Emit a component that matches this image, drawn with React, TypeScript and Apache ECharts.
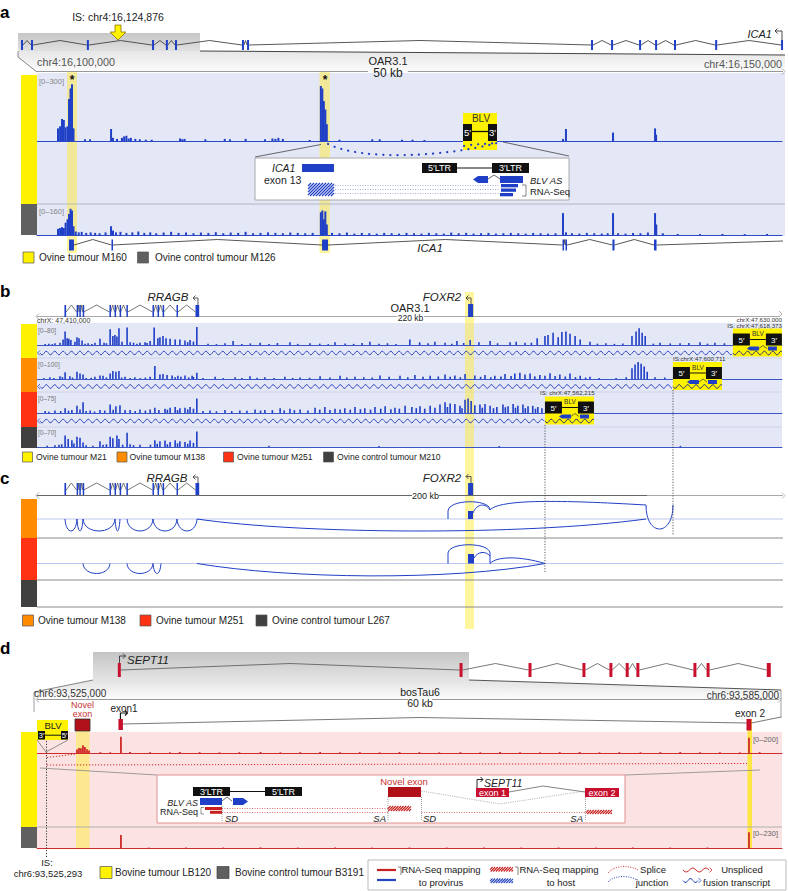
import React, { useEffect, useRef } from 'react';
import * as echarts from 'echarts';

const FONT = '"Liberation Sans", Arial, Helvetica, sans-serif';
const BLUE = '#1f3fc6';
const YEL = '#fff200';
const ORANGE = '#ff8c00';
const RED = '#ff3314';
const DARK = '#404040';
const GRAY = '#606060';
const HL = 'rgba(255,236,60,0.5)';
const BG_BLUE = '#e3e7f6';
const BG_PINK = '#fbe3e3';
const CRED = '#d02a2a';
const EXRED = '#c8102e';

// ---------- Panel a (kb from chr4:16,100,000; 50 kb window) ----------
const aRange = [0, 50];
const aTopExons = [1.1, 3.85, 19.2, 37.1, 40.9, 43.4, 61.8, 63.2, 157.7, 163.2, 170.9, 175.3, 180.5, 191.8, 209.9];
const aICA1Exons: [number, number][] = [[2.15, 2.48], [5.0, 5.1], [19.13, 19.53], [35.27, 35.37], [35.47, 35.57], [38.62, 38.76], [41.41, 41.58]];
const aM160: [number, number][] = [
  [1.41, 60], [1.55, 70], [1.68, 105], [1.8, 100], [1.92, 65], [2.05, 70], [2.15, 200], [2.25, 250], [2.35, 270], [2.45, 60],
  [3.22, 8], [3.56, 8], [4.97, 57], [5.1, 15], [5.37, 10], [5.7, 15], [5.85, 22], [6.0, 25], [6.15, 12], [6.3, 15], [6.6, 10],
  [6.9, 8], [7.3, 6], [7.7, 6], [9.6, 12], [9.75, 8], [9.9, 10], [11.3, 8], [12.6, 10], [12.95, 8], [14.0, 10], [15.3, 8],
  [15.8, 12], [16.0, 10], [16.2, 15], [16.5, 10], [18.3, 5], [19.05, 262], [19.15, 250], [19.25, 190], [19.35, 150], [19.45, 80],
  [20.3, 6], [22.5, 8], [23.0, 8], [24.5, 6], [25.2, 6], [26.0, 5], [35.3, 10], [35.5, 57], [38.66, 40], [41.48, 60], [41.55, 30],
];
const aM126: [number, number][] = [
  [1.41, 35], [1.55, 40], [1.68, 45], [1.8, 40], [1.92, 70], [2.05, 90], [2.15, 120], [2.25, 150], [2.35, 140], [2.45, 50],
  [2.6, 20], [2.8, 15], [3.0, 18], [3.3, 12], [3.6, 15], [3.9, 12], [4.2, 10], [4.6, 15], [4.97, 50], [5.1, 25], [5.3, 15],
  [5.6, 18], [6.0, 12], [6.4, 15], [6.8, 20], [7.2, 12], [7.6, 15], [8.0, 10], [8.5, 14], [9.0, 18], [9.5, 12], [10.0, 15],
  [10.5, 10], [11.0, 14], [11.5, 12], [12.0, 16], [12.5, 10], [13.0, 14], [13.5, 12], [14.0, 18], [14.5, 10], [15.0, 12],
  [15.5, 15], [16.0, 12], [16.5, 10], [17.0, 14], [17.5, 12], [18.0, 10], [18.5, 12], [19.05, 130], [19.15, 140], [19.25, 90],
  [19.35, 135], [19.45, 60], [19.8, 12], [20.3, 10], [20.8, 14], [21.3, 8], [21.8, 12], [22.3, 10], [22.8, 8], [23.3, 12],
  [23.8, 10], [24.3, 8], [24.8, 12], [25.3, 10], [25.8, 8], [26.3, 12], [26.8, 10], [27.3, 8], [27.8, 14], [28.3, 10],
  [28.8, 12], [29.3, 8], [29.8, 10], [30.3, 12], [30.8, 8], [31.3, 10], [31.8, 12], [32.3, 10], [32.8, 8], [33.3, 12],
  [33.8, 10], [34.3, 8], [34.8, 10], [35.3, 125], [35.5, 15], [35.9, 10], [36.4, 8], [36.9, 12], [37.4, 10], [37.9, 8],
  [38.3, 10], [38.66, 125], [39.0, 10], [39.5, 8], [40.0, 12], [40.5, 10], [41.0, 14], [41.48, 125], [41.56, 60], [42.0, 10],
  [43.0, 6], [44.5, 5], [46.0, 6], [47.5, 5], [49.0, 6],
];

// ---------- Panel b / c (kb from chrX:47,410,000; 220 kb window) ----------
const bRange = [0, 220];
const bRRAGBExons: [number, number][] = [[8.1, 8.6], [11.7, 12.1], [12.5, 12.9], [13.5, 13.8], [21.4, 21.8], [22.9, 23.2], [24.4, 24.7], [26.4, 26.8], [34.1, 34.5], [35.6, 35.9], [37.1, 37.4], [41.2, 41.6], [46.8, 47.9]];
const bFOXR2Exon: [number, number] = [127.3, 128.8];
const bBLVStart = [205.5, 187.8, 150.0];
const bM21: [number, number][] = [
  [2.4, 5], [5.3, 8], [6.8, 10], [7.7, 25], [8.3, 60], [8.9, 30], [9.4, 28], [10.0, 22], [11.2, 15], [11.8, 35], [12.4, 30],
  [13.3, 20], [15.1, 8], [17.1, 10], [18.6, 28], [19.8, 10], [21.6, 70], [22.4, 40], [23.0, 45], [23.6, 38], [24.2, 75],
  [25.1, 15], [26.6, 78], [27.5, 12], [30.4, 10], [31.9, 12], [33.4, 18], [34.6, 78], [35.7, 30], [36.3, 35], [37.2, 40],
  [38.1, 30], [39.3, 28], [40.8, 25], [42.2, 25], [43.7, 20], [45.2, 22], [47.2, 80], [57.9, 18], [65.9, 10], [74.7, 12],
  [80.6, 8], [88.0, 12], [98.3, 15], [110.1, 25], [117.5, 15], [124.0, 18], [127.9, 22], [133.8, 18], [139.7, 12], [144.1, 10],
  [147.7, 30], [150.0, 40], [150.9, 45], [152.4, 55], [153.9, 35], [155.0, 58], [156.2, 60], [157.4, 50], [158.9, 40],
  [160.4, 25], [163.3, 15], [175.7, 40], [176.9, 60], [177.8, 75], [178.7, 55], [179.6, 40], [184.0, 10], [189.9, 8],
  [195.8, 12], [200.2, 10],
];
const bM21Low: [number, number][] = [
  [3.5, 6], [4.5, 4], [14.2, 6], [16.2, 5], [20.5, 8], [28.5, 10], [29.5, 6], [32.5, 9], [44.5, 12], [46.2, 15],
  [50.5, 6], [53, 4], [55.5, 8], [60.5, 5], [63, 7], [68.5, 4], [71, 9], [77, 5], [83.5, 6], [86, 4], [91, 7], [93.5, 5],
  [96, 9], [101, 6], [103.5, 8], [106, 5], [113, 12], [115.5, 8], [120.5, 10], [122.5, 6], [126, 9], [130.5, 12], [136, 8],
  [141.5, 14], [146, 10], [165.5, 6], [168, 8], [170.5, 5], [173, 7], [182, 6], [187, 7], [192.5, 9], [198, 6], [203, 8],
];
const bM138: [number, number][] = [
  [3.8, 10], [6.8, 15], [8.3, 38], [9.7, 15], [11.8, 40], [12.7, 30], [13.6, 25], [17.1, 12], [18.6, 20], [19.5, 18],
  [21.6, 30], [22.4, 45], [23.3, 40], [24.2, 45], [26.0, 12], [28.9, 10], [33.4, 12], [34.8, 72], [36.3, 25], [37.2, 28],
  [38.4, 22], [39.9, 20], [41.6, 18], [43.7, 20], [45.8, 18], [47.2, 35], [52.6, 12], [58.5, 10], [62.9, 15], [67.3, 10],
  [73.2, 12], [77.7, 8], [83.6, 15], [89.5, 18], [93.9, 12], [101.3, 20], [107.2, 18], [111.6, 22], [116.1, 18], [120.5, 25],
  [123.4, 20], [126.4, 28], [129.3, 20], [132.3, 22], [135.2, 18], [138.2, 28], [141.1, 30], [142.6, 35], [144.1, 25],
  [145.6, 30], [148.5, 22], [151.5, 32], [154.4, 25], [157.4, 30], [160.4, 18], [163.3, 12], [175.7, 60], [176.6, 80],
  [177.5, 95], [178.4, 85], [179.3, 70], [180.2, 40], [182.5, 10], [185.4, 8],
];
const bM138Low: [number, number][] = [
  [2, 5], [5, 6], [7.5, 10], [10.5, 8], [14.5, 6], [16, 7], [20.5, 9], [25, 8], [27.5, 6], [30.5, 5], [32, 8], [40.8, 10],
  [42.5, 12], [44.8, 9], [46.2, 11], [49, 6], [55, 5], [60.5, 6], [65, 7], [70, 5], [75.5, 6], [80.5, 7], [86.5, 8],
  [91.5, 9], [96.5, 10], [99, 8], [104, 12], [109.5, 10], [114, 12], [118.5, 14], [122, 12], [125, 10], [131, 12], [134, 10],
  [137, 14], [140, 16], [147, 15], [150, 18], [153, 16], [156, 14], [159, 10], [162, 8], [166, 5], [171, 6], [174, 10],
];
const bM251: [number, number][] = [
  [2.4, 8], [5.3, 10], [8.3, 20], [10.3, 12], [11.8, 30], [13.6, 45], [15.7, 10], [18.6, 12], [21.6, 35], [23.3, 28],
  [24.5, 32], [27.5, 12], [30.4, 15], [33.4, 15], [34.8, 22], [37.8, 18], [39.3, 22], [40.8, 25], [42.2, 20], [43.7, 22],
  [45.2, 25], [47.2, 60], [51.1, 10], [55.5, 12], [59.9, 10], [64.4, 15], [67.3, 12], [71.8, 20], [74.7, 18], [77.7, 15],
  [82.1, 22], [85.0, 25], [88.0, 18], [90.9, 20], [93.9, 25], [96.8, 20], [99.8, 25], [102.8, 28], [105.7, 22], [108.7, 30],
  [110.7, 25], [113.1, 28], [116.1, 30], [119.0, 35], [120.5, 45], [122.0, 40], [123.4, 38], [124.9, 30], [126.4, 55],
  [127.3, 60], [128.2, 50], [129.3, 32], [130.8, 35], [132.3, 38], [133.8, 30], [135.8, 25], [137.6, 35], [139.1, 28],
  [140.6, 38], [142.0, 30], [143.5, 35], [145.0, 28], [146.4, 30], [147.9, 25], [149.1, 20],
];
const bM251Low: [number, number][] = [
  [3.5, 5], [7, 8], [9.3, 10], [12.7, 15], [14.5, 8], [17, 6], [20, 10], [22.5, 14], [26, 12], [29, 8], [32, 10], [36, 12],
  [38.5, 14], [41.5, 12], [44.5, 15], [46.2, 18], [49, 8], [53, 7], [57.5, 8], [62, 9], [66, 10], [69.5, 12], [73, 11],
  [76, 12], [80, 10], [83.5, 14], [86.5, 12], [89.5, 15], [92.5, 14], [95.5, 16], [98.5, 14], [101.5, 18], [104.5, 16],
  [107, 18], [112, 20], [114.5, 18], [117.5, 22], [121.2, 25], [125.5, 20], [131.5, 22], [134.8, 20], [138.3, 24],
  [141.3, 22], [144.2, 20], [147.2, 18],
];
const bM210: [number, number][] = [
  [5.3, 8], [8.3, 50], [9.2, 35], [10.3, 30], [11.8, 45], [12.7, 40], [13.6, 20], [18.6, 25], [21.6, 45], [22.4, 38],
  [23.6, 50], [24.2, 35], [26.6, 62], [30.4, 10], [34.8, 30], [36.3, 25], [37.8, 28], [39.3, 22], [40.8, 30], [42.2, 25],
  [43.7, 22], [45.2, 28], [47.2, 68], [68.5, 5], [101.0, 4], [136.5, 4], [190.0, 5],
];
const bM210Low: [number, number][] = [
  [3, 6], [6.5, 10], [7.3, 12], [10.9, 15], [14.5, 8], [16.5, 6], [19.5, 10], [20.5, 12], [25.3, 10], [27.5, 12], [28.5, 8],
  [33.5, 10], [35.5, 14], [38.5, 12], [41.5, 16], [44.5, 14], [46.2, 18],
];

// ---------- Panel d (kb from chr6:93,525,000; 60 kb window) ----------
const dRange = [0, 60];
const dOverviewExons = [4.2, 58.7, 69.7, 78.3, 82.6, 85.2, 86.9, 96.0, 98.1, 107.7];
const dExon1 = 6.76;
const dExon2 = 57.34;
const dNovel: [number, number] = [3.06, 4.27];
const dLB120: [number, number][] = [
  [3.22, 40], [3.38, 60], [3.54, 55], [3.7, 90], [3.86, 70], [4.03, 45], [4.19, 30], [6.76, 190], [57.34, 180],
  [5.1, 10], [5.9, 8], [7.5, 12], [9.1, 10], [10.7, 8], [11.5, 12], [13.1, 10], [14.7, 8], [16.3, 10], [18.0, 12], [19.6, 8],
  [21.2, 10], [22.8, 12], [24.4, 8], [26.0, 10], [27.6, 8], [29.2, 12], [30.8, 10], [32.4, 8], [34.1, 10], [35.7, 8],
  [37.3, 12], [38.9, 10], [40.5, 8], [42.1, 10], [43.7, 12], [45.3, 8], [46.9, 10], [48.6, 8], [50.2, 10], [51.8, 12],
  [53.4, 8], [55.0, 10], [56.6, 8], [58.2, 10],
];
const dB3191: [number, number][] = [
  [6.76, 157], [57.34, 190], [9.0, 5], [12, 6], [15, 5], [18, 7], [21, 5], [24, 6], [27, 5], [30, 6], [33, 5], [36, 6],
  [39, 5], [42, 6], [45, 5], [48, 6], [51, 5], [54, 6],
];

const L0 = 37;
const W = 745;
const xa = (k: number) => L0 + (k - aRange[0]) / (aRange[1] - aRange[0]) * W;
const xb = (k: number) => L0 + (k - bRange[0]) / (bRange[1] - bRange[0]) * W;
const xd = (k: number) => L0 + (k - dRange[0]) / (dRange[1] - dRange[0]) * W;
const xt = (k: number) => 18 + k * 3.64; // panel a overview
const xo = (k: number) => 93 + k * 6.27; // panel d overview

function buildOption() {
  const els: any[] = [];
  const vgrad = (c1: string, c2: string) => new echarts.graphic.LinearGradient(0, 0, 0, 1, [{ offset: 0, color: c1 }, { offset: 1, color: c2 }]);
  const txt = (x: number, y: number, text: string, o: any = {}) => els.push({
    type: 'text', x, y, z: o.z ?? 30, silent: true,
    style: {
      text, fill: o.fill ?? '#222', fontSize: o.size ?? 10, fontFamily: FONT,
      fontStyle: o.italic ? 'italic' : 'normal', fontWeight: o.bold ? 'bold' : 'normal',
      align: o.align ?? 'left', verticalAlign: o.va ?? 'middle',
    },
  });
  const rect = (x: number, y: number, w: number, h: number, fill: any, o: any = {}) => els.push({
    type: 'rect', z: o.z ?? 10, silent: true, shape: { x, y, width: w, height: h },
    style: { fill, stroke: o.stroke ?? null, lineWidth: o.lw ?? 0 },
  });
  const line = (x1: number, y1: number, x2: number, y2: number, stroke = '#555', lw = 1, o: any = {}) => els.push({
    type: 'line', z: o.z ?? 12, silent: true, shape: { x1, y1, x2, y2 },
    style: { stroke, lineWidth: lw, lineDash: o.dash ?? null, lineCap: o.cap ?? 'butt' },
  });
  const poly = (points: number[][], stroke: string, lw = 1, o: any = {}) => els.push({
    type: 'polyline', z: o.z ?? 12, silent: true, shape: { points },
    style: { stroke, lineWidth: lw, fill: 'none', lineDash: o.dash ?? null },
  });
  const polygon = (points: number[][], fill: any, o: any = {}) => els.push({
    type: 'polygon', z: o.z ?? 10, silent: true, shape: { points },
    style: { fill, stroke: o.stroke ?? null, lineWidth: o.lw ?? 0 },
  });
  const bez = (x1: number, y1: number, c1x: number, c1y: number, c2x: number, c2y: number, x2: number, y2: number, stroke = BLUE, lw = 1, o: any = {}) => els.push({
    type: 'bezierCurve', z: o.z ?? 12, silent: true,
    shape: { x1, y1, x2, y2, cpx1: c1x, cpy1: c1y, cpx2: c2x, cpy2: c2y },
    style: { stroke, lineWidth: lw, fill: 'none', lineDash: o.dash ?? null, lineCap: o.cap ?? 'butt' },
  });
  const chevL = (x: number, y: number, s = 3, stroke = '#999') => poly([[x + s, y - s], [x, y], [x + s, y + s]], stroke, 0.8);
  const chevR = (x: number, y: number, s = 3, stroke = '#999') => poly([[x - s, y - s], [x, y], [x - s, y + s]], stroke, 0.8);
  const hookArrow = (x: number, yb: number, yt: number, dir: number, len = 6, stroke = '#333', lw = 0.9) => {
    const ex = x + dir * len;
    poly([[x, yb], [x, yt], [ex, yt]], stroke, lw, { z: 20 });
    poly([[ex - dir * 2.5, yt - 2.5], [ex, yt], [ex - dir * 2.5, yt + 2.5]], stroke, lw, { z: 20 });
  };
  const wave = (x1: number, x2: number, y: number, amp: number, period: number, stroke: string, lw = 0.9, z = 12) => {
    const pts: number[][] = [];
    for (let x = x1; x <= x2; x += 1) pts.push([x, y + amp * Math.sin(((x - x1) / period) * 2 * Math.PI)]);
    poly(pts, stroke, lw, { z });
  };
  const hatch = (x: number, y: number, w: number, h: number, color: string, step = 3, lw = 1.2, z = 20) => {
    for (let i = x - h; i < x + w; i += step) {
      let x1 = i, y1 = y + h, x2 = i + h, y2 = y;
      if (x1 < x) { y1 = y + h - (x - x1); x1 = x; }
      if (x2 > x + w) { y2 = y + (x2 - (x + w)); x2 = x + w; }
      if (x2 > x1) line(x1, y1, x2, y2, color, lw, { z });
    }
  };
  const gene = (ex: number[][], yTop: number, h: number, attachY: number, peakY: number, fill: string, lc = '#555', lw = 0.8) => {
    for (let i = 0; i < ex.length - 1; i++) {
      const x1 = ex[i][1], x2 = ex[i + 1][0];
      if (x2 - x1 > 0.5) poly([[x1, attachY], [(x1 + x2) / 2, peakY], [x2, attachY]], lc, lw, { z: 14 });
    }
    ex.forEach(([s, e]) => rect(s, yTop, Math.max(e - s, 1.5), h, fill, { z: 15 }));
  };
  const legendSq = (x: number, y: number, fill: string, label: string, tx: number, size = 10, sq = 11) => {
    rect(x, y, sq, sq, fill, { stroke: '#555', lw: 0.7, z: 20 });
    txt(tx, y + sq / 2, label, { size });
  };

  // =================== PANEL A ===================
  txt(0, 12, 'a', { size: 17, bold: true, fill: '#000' });
  txt(118, 17, 'IS: chr4:16,124,876', { size: 10.5, align: 'center' });
  rect(18, 33, 182, 18, vgrad('#c6c6c6', '#e0e0e0'), { z: 2 });
  polygon([[18, 51], [200, 51], [785, 55], [785, 72], [37, 72], [18, 57]], vgrad('#e6e6e6', '#fcfcfc'), { z: 2 });
  line(200, 51, 785, 55, '#444', 1);
  line(18, 51, 18, 57, '#777', 0.8);
  line(18, 57, 37, 72, '#666', 0.8);
  gene(aTopExons.map((k) => [xt(k) - 1, xt(k) + 1]), 40, 10, 45, 40.5, BLUE, '#444', 0.9);
  txt(772, 34, 'ICA1', { size: 11, italic: true, align: 'right' });
  hookArrow(782, 40, 31, -1, 7, '#333');
  polygon([[115, 25], [121, 25], [121, 32], [126, 32], [118, 40], [110, 32], [115, 32]], YEL, { stroke: '#8a7400', lw: 0.8, z: 25 });
  line(37, 71.5, 368, 71.5, '#999', 1);
  line(408, 71.5, 783, 71.5, '#999', 1);
  chevR(785, 71.5, 3, '#999');
  txt(37, 62, 'chr4:16,100,000', { size: 10.8, fill: '#555' });
  txt(388, 61, 'OAR3.1', { size: 11, align: 'center' });
  txt(388, 72.5, '50 kb', { size: 12, align: 'center' });
  txt(782, 64, 'chr4:16,150,000', { size: 10.8, fill: '#555', align: 'right' });
  rect(37, 73, 748, 163, BG_BLUE, { z: 0 });
  rect(21, 75, 16, 129, YEL, { z: 5 });
  rect(21, 204, 16, 31, GRAY, { z: 5 });
  line(21, 204, 785, 204, '#aab', 0.8, { z: 4 });
  rect(67, 72, 10, 181, HL, { z: 1 });
  rect(319.5, 72, 10.5, 181, HL, { z: 1 });
  txt(39, 81, '[0–300]', { size: 7.5, fill: '#888' });
  txt(39, 211.5, '[0–160]', { size: 7.5, fill: '#888' });
  txt(72, 80, '*', { size: 12, bold: true, align: 'center', fill: '#111' });
  txt(325, 80, '*', { size: 12, bold: true, align: 'center', fill: '#111' });
  bez(328, 144, 360, 160, 440, 158, 497, 143, BLUE, 2.2, { dash: [0.1, 7], cap: 'round', z: 16 });
  rect(463, 113, 34, 37, YEL, { z: 15 });
  rect(463, 124, 9, 17, '#111', { z: 16 });
  rect(488, 124, 9, 17, '#111', { z: 16 });
  line(472, 131.5, 488, 131.5, '#111', 1.3, { z: 16 });
  txt(467.5, 132.5, '5′', { size: 9.5, fill: '#fff', align: 'center' });
  txt(492.5, 132.5, '3′', { size: 9.5, fill: '#fff', align: 'center' });
  txt(481, 118, 'BLV', { size: 10, align: 'center', fill: '#333' });
  bez(464, 146, 475, 144, 485, 144, 497, 143, BLUE, 2.2, { dash: [0.1, 7], cap: 'round', z: 17 });
  line(255, 157, 321, 144.5, '#444', 0.8, { z: 13 });
  line(569, 156, 503, 142, '#444', 0.8, { z: 13 });
  rect(255, 158, 314, 42, '#fff', { stroke: '#aaa', lw: 1, z: 13 });
  txt(272, 167.5, 'ICA1', { size: 10.5, italic: true });
  txt(264, 179.5, 'exon 13', { size: 10.5 });
  rect(302, 164, 32, 8, BLUE, { z: 20 });
  hatch(308, 183, 26, 13, BLUE, 3, 1.2);
  [185.5, 189.5, 193.5].forEach((y) => line(335, y, 500, y, '#8d9bd6', 0.8, { dash: [1, 1.5], z: 19 }));
  rect(422, 163, 35, 10, '#111', { z: 20 });
  txt(439.5, 168.3, '5′LTR', { size: 9, fill: '#fff', align: 'center', z: 31 });
  line(457, 168, 492, 168, '#111', 1.2, { z: 20 });
  rect(492, 163, 37, 10, '#111', { z: 20 });
  txt(510.5, 168.3, '3′LTR', { size: 9, fill: '#fff', align: 'center', z: 31 });
  polygon([[473, 179.5], [478, 176], [488, 176], [488, 183], [478, 183]], BLUE, { z: 20 });
  poly([[488, 179], [494, 175], [500, 179]], '#444', 0.8, { z: 20 });
  rect(500, 176, 23, 7, BLUE, { z: 20 });
  rect(501, 184, 17, 3.3, BLUE, { z: 20 });
  rect(501, 188.5, 15, 3.3, BLUE, { z: 20 });
  rect(500, 193, 13, 3.3, BLUE, { z: 20 });
  txt(530, 180.5, 'BLV AS', { size: 9.5, italic: true });
  poly([[522, 185], [526, 185], [526, 196], [522, 196]], '#666', 0.8, { z: 20 });
  txt(530, 191.5, 'RNA-Seq', { size: 9.5 });
  gene(aICA1Exons.map(([s, e]) => [xa(s), xa(e)]), 239.5, 11, 245, 239.5, BLUE, '#444', 0.9);
  poly([[xa(aICA1Exons[aICA1Exons.length - 1][1]), 245], [783, 241]], '#444', 0.9, { z: 14 });
  txt(430, 248, 'ICA1', { size: 11.5, italic: true, align: 'center' });
  legendSq(23, 252, YEL, 'Ovine tumour M160', 39);
  legendSq(137.5, 252, GRAY, 'Ovine control tumour M126', 155);

  // =================== PANEL B ===================
  txt(0, 291, 'b', { size: 17, bold: true, fill: '#000' });
  const rrB = bRRAGBExons.map(([s, e]) => [xb(s), xb(e)]);
  gene(rrB, 305, 12, 312, 305, BLUE, '#555', 0.8);
  txt(168, 296.5, 'RRAGB', { size: 11.5, italic: true, align: 'center' });
  hookArrow(198, 305, 298, -1, 5, '#444');
  rect(xb(bFOXR2Exon[0]), 304, xb(bFOXR2Exon[1]) - xb(bFOXR2Exon[0]), 13, BLUE, { z: 15 });
  txt(442, 297, 'FOXR2', { size: 11.5, italic: true, align: 'center' });
  hookArrow(471, 304, 298, -1, 5, '#444');
  line(37, 316.5, 397, 316.5, '#aaa', 1);
  line(424, 316.5, 780, 316.5, '#aaa', 1);
  chevL(36, 316.5, 3, '#999');
  chevR(782, 314, 3, '#999');
  txt(410, 307.5, 'OAR3.1', { size: 11, align: 'center' });
  txt(410.5, 317.5, '220 kb', { size: 8.5, align: 'center' });
  txt(37, 320.8, 'chrX: 47,410,000', { size: 7, fill: '#333' });
  rect(37, 323, 745, 125, BG_BLUE, { z: 0 });
  rect(21, 324, 16, 34, YEL, { z: 5 });
  rect(21, 358, 16, 34, ORANGE, { z: 5 });
  rect(21, 392, 16, 35, RED, { z: 5 });
  rect(21, 427, 16, 21, DARK, { z: 5 });
  [358, 392, 427].forEach((y) => line(37, y, 782, y, '#cbd0e6', 0.8, { z: 0.5 }));
  txt(38, 330, '[0–80]', { size: 6.5, fill: '#777' });
  txt(38, 364, '[0–100]', { size: 6.5, fill: '#777' });
  txt(38, 398, '[0–75]', { size: 6.5, fill: '#777' });
  txt(38, 432, '[0–70]', { size: 6.5, fill: '#777' });
  const boxY = [328.5, 362, 396.5];
  bBLVStart.forEach((k, i) => {
    const x = xb(k);
    const y = boxY[i];
    wave(40, x, y + 24.5, 1.9, 8.4, '#2a45c0', 0.9, 12);
    chevL(37.5, y + 24.5, 2.5, '#2a45c0');
    rect(x, y, 49, 28, YEL, { z: 15 });
    rect(x, y + 5, 17, 12, '#111', { z: 16 });
    rect(x + 33, y + 5, 16, 12, '#111', { z: 16 });
    line(x + 17, y + 11, x + 33, y + 11, '#111', 1, { z: 16 });
    txt(x + 8.5, y + 11.5, '5′', { size: 8, fill: '#fff', align: 'center' });
    txt(x + 41, y + 11.5, '3′', { size: 8, fill: '#fff', align: 'center' });
    txt(x + 25, y + 5, 'BLV', { size: 6.5, align: 'center', fill: '#333' });
    polygon([[x + 14, y + 20], [x + 17, y + 18], [x + 26, y + 18], [x + 26, y + 22], [x + 17, y + 22]], BLUE, { z: 16 });
    poly([[x + 26, y + 20], [x + 30, y + 17], [x + 34, y + 20]], '#333', 0.7, { z: 16 });
    rect(x + 35, y + 18, 9, 4, BLUE, { z: 16 });
    wave(x, x + 49, y + 24.5, 1.9, 8.4, '#1c2a80', 0.9, 16);
  });
  txt(782, 319.5, 'chrX:47,630,000', { size: 6.2, fill: '#333', align: 'right' });
  txt(782, 325.3, 'IS: chrX:47,618,373', { size: 6.2, fill: '#333', align: 'right' });
  txt(xb(bBLVStart[1]), 358, 'IS:chrX:47,600,711', { size: 6.2, fill: '#333' });
  txt(xb(bBLVStart[2]) - 5, 392.5, 'IS: chrX:47,562,215', { size: 6.2, fill: '#333' });
  line(xb(bBLVStart[2]), 425, xb(bBLVStart[2]), 573, '#333', 0.8, { dash: [1.2, 1.5], z: 18 });
  line(xb(bBLVStart[1]), 390, xb(bBLVStart[1]), 535, '#333', 0.8, { dash: [1.2, 1.5], z: 18 });
  rect(465, 292, 9, 337, HL, { z: 1 });
  legendSq(22.5, 452, YEL, 'Ovine tumour M21', 36, 8.6, 10);
  legendSq(117, 452, ORANGE, 'Ovine tumour M138', 129.5, 8.6, 10);
  legendSq(223.5, 452, RED, 'Ovine tumour M251', 237, 8.6, 10);
  legendSq(323.5, 452, DARK, 'Ovine control tumour M210', 337, 8.6, 10);

  // =================== PANEL C ===================
  txt(0, 478, 'c', { size: 17, bold: true, fill: '#000' });
  gene(rrB, 483, 12, 490, 483, BLUE, '#555', 0.8);
  txt(167, 478, 'RRAGB', { size: 11.5, italic: true, align: 'center' });
  hookArrow(198, 483, 477, -1, 5, '#444');
  rect(xb(bFOXR2Exon[0]), 483, xb(bFOXR2Exon[1]) - xb(bFOXR2Exon[0]), 12, BLUE, { z: 15 });
  txt(442, 478, 'FOXR2', { size: 11.5, italic: true, align: 'center' });
  hookArrow(471, 483, 476.5, -1, 5, '#444');
  line(37, 495.5, 412, 495.5, '#666', 1);
  line(439, 495.5, 647, 495.5, '#666', 1);
  line(647, 495.5, 783, 495.5, '#aaa', 1);
  chevL(36, 495.5, 3, '#888');
  chevR(785, 495.5, 3, '#aaa');
  txt(425.5, 495.5, '200 kb', { size: 9, align: 'center' });
  rect(21, 499, 16, 39, ORANGE, { z: 5 });
  rect(21, 538, 16, 42, RED, { z: 5 });
  rect(21, 580, 16, 27, DARK, { z: 5 });
  [538, 580, 607].forEach((y) => line(37, y, 783, y, '#8a8a8a', 1, { z: 4 }));
  line(37, 519, 783, 519, '#b6c0ec', 0.9, { z: 4 });
  line(37, 563.5, 783, 563.5, '#b6c0ec', 0.9, { z: 4 });
  const loops = (pairs: number[][], y: number, d: number) => pairs.forEach(([a, b]) => bez(a, y, a + 1, y + d * 1.33, b - 1, y + d * 1.33, b, y, BLUE, 1));
  loops([[65, 77], [77, 83], [83, 115], [115, 120], [127, 153], [153, 177], [177, 197]], 519, 12);
  bez(197, 519, 300, 534, 520, 536, 646, 519, BLUE, 1);
  line(448, 519, 448, 511, BLUE, 1);
  bez(448, 511, 449, 499, 488, 499, 490, 509, BLUE, 1);
  rect(468, 511, 5, 8, BLUE, { z: 15 });
  bez(473, 513, 477, 503, 486, 503, 490, 510, BLUE, 1);
  bez(490, 510, 500, 499, 560, 500, 646, 505, BLUE, 1);
  bez(646, 505, 646, 537, 673, 537, 673, 505, BLUE, 1);
  loops([[83, 110], [127, 153], [153, 161]], 563.5, 10);
  bez(197, 563.5, 290, 579, 450, 581, 545, 563.5, BLUE, 1);
  line(448, 563.5, 448, 553, BLUE, 1);
  bez(448, 553, 449, 542, 489, 542, 490, 553, BLUE, 1);
  line(490, 553, 490, 563.5, BLUE, 1);
  rect(468, 554, 6, 9.5, BLUE, { z: 15 });
  bez(474, 558, 478, 551, 486, 551, 490, 556, BLUE, 1);
  bez(490, 563.5, 497, 556, 520, 556, 545, 563.5, BLUE, 1);
  legendSq(22.5, 615, ORANGE, 'Ovine tumour M138', 38);
  legendSq(140, 615, RED, 'Ovine tumour M251', 156);
  legendSq(256, 615, DARK, 'Ovine control tumour L267', 272);

  // =================== PANEL D ===================
  txt(0, 648, 'd', { size: 17, bold: true, fill: '#000' });
  rect(93, 652, 376, 28, vgrad('#c4c4c4', '#e4e4e4'), { z: 2 });
  polygon([[93, 680], [469, 680], [781, 690], [781, 699], [34, 699], [34, 692]], vgrad('#e2e2e2', '#fcfcfc'), { z: 2 });
  line(93, 680, 34, 692, '#666', 0.8);
  line(469, 680, 781, 690, '#555', 1);
  line(34, 692, 34, 712, '#888', 0.8);
  line(781, 690, 781, 718, '#888', 0.8);
  const ovPx = dOverviewExons.map((k, i) => [xo(k) - 1.5, xo(k) + (i === dOverviewExons.length - 1 ? 2.5 : 1.5)]);
  gene(ovPx, 663, 14, 670, 663.5, EXRED, '#555', 0.8);
  txt(127, 660, 'SEPT11', { size: 11.5, italic: true });
  hookArrow(119.5, 663, 656, 1, 6, '#333');
  line(37, 699.5, 408, 699.5, '#999', 1);
  line(432, 699.5, 779, 699.5, '#999', 1);
  chevL(36, 699.5, 3, '#999');
  chevR(781, 699.5, 3, '#999');
  txt(34, 693, 'chr6:93,525,000', { size: 10, fill: '#333' });
  txt(420, 692, 'bosTau6', { size: 10.5, align: 'center' });
  txt(420, 702.5, '60 kb', { size: 10.5, align: 'center' });
  txt(779, 695.5, 'chr6:93,585,000', { size: 10, fill: '#333', align: 'right' });
  const e1 = xd(dExon1), e2 = xd(dExon2);
  poly([[e1 + 2, 724], [420, 717.5], [e2 - 2.5, 723]], '#555', 0.8, { z: 14 });
  poly([[e2 + 2.5, 723], [781, 717]], '#555', 0.8, { z: 14 });
  rect(e1 - 2.5, 719, 4.5, 11, EXRED, { z: 15 });
  txt(124, 708, 'exon1', { size: 10, align: 'center' });
  hookArrow(e1 - 0.5, 719, 713, 1, 7, '#111', 1.2);
  rect(e2 - 2.5, 719, 5, 11.5, EXRED, { z: 15 });
  txt(750, 713, 'exon 2', { size: 10, align: 'center' });
  rect(xd(dNovel[0]), 719, xd(dNovel[1]) - xd(dNovel[0]), 12, '#b01018', { stroke: '#333', lw: 0.8, z: 15 });
  txt(82.5, 704.5, 'Novel', { size: 9, align: 'center', fill: '#c83232' });
  txt(82.5, 713.5, 'exon', { size: 9, align: 'center', fill: '#c83232' });
  rect(37, 720, 31, 20, YEL, { z: 15 });
  rect(38, 731, 7, 8.5, '#111', { z: 16 });
  rect(61, 731, 7, 8.5, '#111', { z: 16 });
  line(45, 735.2, 61, 735.2, '#111', 1, { z: 16 });
  txt(41.5, 735.5, '3′', { size: 7.5, fill: '#fff', align: 'center' });
  txt(64.5, 735.5, '5′', { size: 7.5, fill: '#fff', align: 'center' });
  txt(53, 725.5, 'BLV', { size: 9.5, align: 'center' });
  poly([[37, 740], [46, 752], [68, 740]], '#777', 0.8, { z: 16 });
  rect(37, 732, 745, 116, BG_PINK, { z: 0 });
  rect(21, 732, 16, 95, YEL, { z: 5 });
  rect(21, 827, 16, 21, GRAY, { z: 5 });
  line(37, 827, 782, 827, '#a9a9a9', 0.9, { z: 4 });
  rect(76, 731, 13.5, 117, HL, { z: 1 });
  rect(747.5, 719, 4.5, 129, 'rgba(255,232,0,0.7)', { z: 1 });
  txt(778, 739, '[0–200]', { size: 7.5, fill: '#666', align: 'right' });
  txt(778, 833.5, '[0–230]', { size: 7.5, fill: '#666', align: 'right' });
  line(46.5, 741, 46.5, 858, '#222', 0.9, { dash: [1.2, 1.6], z: 18 });
  line(47, 757.5, 76, 754, CRED, 1, { dash: [1.2, 1.8], z: 12 });
  line(47, 765, 747, 763.5, CRED, 1, { dash: [1.2, 1.8], z: 12 });
  txt(47, 862, 'IS:', { size: 9.5, align: 'center' });
  txt(48, 873.5, 'chr6:93,525,293', { size: 9.5, align: 'center' });
  line(40, 768, 157, 775, '#888', 0.8, { z: 13 });
  line(760, 770, 625, 775, '#888', 0.8, { z: 13 });
  rect(157, 775, 468, 48, '#fff', { stroke: '#e29090', lw: 1, z: 13 });
  rect(193, 787, 37, 9, '#111', { z: 20 });
  txt(211.5, 791.8, '3′LTR', { size: 9, fill: '#fff', align: 'center' });
  line(230, 791.5, 265, 791.5, '#111', 1.2, { z: 20 });
  rect(265, 787, 37, 9, '#111', { z: 20 });
  txt(283.5, 791.8, '5′LTR', { size: 9, fill: '#fff', align: 'center' });
  rect(200, 798, 22, 7, BLUE, { z: 20 });
  poly([[222, 801], [227, 797], [232, 801]], '#444', 0.8, { z: 20 });
  polygon([[233, 798], [243, 798], [248, 801.5], [243, 805], [233, 805]], BLUE, { z: 20 });
  txt(198, 802.5, 'BLV AS', { size: 9, italic: true, align: 'right' });
  txt(198, 812, 'RNA-Seq', { size: 9, align: 'right' });
  poly([[204, 807.5], [201, 807.5], [201, 814], [204, 814]], '#777', 0.8, { z: 20 });
  rect(205, 807, 17, 3, '#c81e1e', { z: 20 });
  rect(210, 810.8, 12, 3, '#c81e1e', { z: 20 });
  line(222, 808.5, 388, 808.5, '#d04848', 0.8, { dash: [1, 1.5], z: 19 });
  line(222, 812.5, 388, 812.5, '#d04848', 0.8, { dash: [1, 1.5], z: 19 });
  line(222, 806, 222, 821, '#777', 0.7, { dash: [1, 1], z: 19 });
  txt(225, 818, 'SD', { size: 9.5, italic: true });
  txt(404, 781.5, 'Novel exon', { size: 9.5, align: 'center', fill: '#c83232' });
  rect(388, 787, 33, 10, '#b01018', { z: 20 });
  hatch(388, 806, 23, 5, '#c81e1e', 2.6, 1.1);
  line(388, 797, 388, 821, '#777', 0.7, { dash: [1, 1], z: 19 });
  txt(386, 818, 'SA', { size: 9.5, italic: true, align: 'right' });
  line(421.5, 797, 421.5, 821, '#777', 0.7, { dash: [1, 1], z: 19 });
  txt(423, 818, 'SD', { size: 9.5, italic: true });
  line(421.5, 812.5, 585, 812.5, '#d04848', 0.8, { dash: [1, 1.5], z: 19 });
  poly([[421.5, 791], [500, 804], [585, 791]], '#999', 0.8, { dash: [1, 1.2], z: 19 });
  txt(484, 782.5, 'SEPT11', { size: 10.5, italic: true });
  hookArrow(477, 788, 779.5, 1, 6, '#222', 1);
  rect(476, 788, 33, 9, EXRED, { z: 20 });
  txt(492.5, 792.8, 'exon 1', { size: 9, fill: '#fff', align: 'center' });
  poly([[509, 792], [543, 786], [585, 792]], '#666', 0.8, { z: 19 });
  rect(585, 788, 34, 9, EXRED, { z: 20 });
  txt(602, 792.8, 'exon 2', { size: 9, fill: '#fff', align: 'center' });
  hatch(586, 810, 26, 4, '#c81e1e', 2.6, 1.1);
  line(585.5, 797, 585.5, 821, '#777', 0.7, { dash: [1, 1], z: 19 });
  txt(583, 818, 'SA', { size: 9.5, italic: true, align: 'right' });
  rect(100, 866.5, 12, 12, YEL, { stroke: '#555', lw: 0.7, z: 20 });
  txt(115, 872.5, 'Bovine tumour LB120', { size: 10 });
  rect(217, 866.5, 12, 12, GRAY, { stroke: '#444', lw: 0.7, z: 20 });
  txt(235, 872.5, 'Bovine control tumour B3191', { size: 10 });
  rect(368, 860, 418, 30, '#fff', { stroke: '#bbb', lw: 1, z: 10 });
  line(377, 870, 396, 870, '#c82020', 2.2, { z: 20 });
  line(377, 880, 396, 880, '#2545c0', 2.2, { z: 20 });
  poly([[398, 867], [401, 867], [401, 875]], '#666', 0.8, { z: 20 });
  txt(441, 869, 'RNA-Seq mapping', { size: 9.5, align: 'center' });
  txt(441, 882, 'to provirus', { size: 9.5, align: 'center' });
  hatch(490, 867, 23, 4.5, '#c82020', 2.6, 1.1);
  hatch(490, 878.5, 23, 4.5, '#2545c0', 2.6, 1.1);
  poly([[515, 867], [518, 867], [518, 875]], '#666', 0.8, { z: 20 });
  txt(559, 869, 'RNA-Seq mapping', { size: 9.5, align: 'center' });
  txt(561, 882, 'to host', { size: 9.5, align: 'center' });
  bez(608, 873, 614, 865, 630, 865, 638, 870, '#d03030', 1, { dash: [1, 1.4], z: 20 });
  bez(608, 882, 614, 875, 630, 875, 638, 880.5, '#2545c0', 1, { dash: [1, 1.4], z: 20 });
  txt(653, 869, 'Splice', { size: 9.5, align: 'center' });
  txt(652, 882, 'junction', { size: 9.5, align: 'center' });
  wave(683, 709, 870, 2, 13, '#d03030', 1, 20);
  chevR(712, 870, 2.5, '#d03030');
  wave(683, 698, 880.5, 2, 10, '#2545c0', 1, 20);
  chevR(701, 880.5, 2.5, '#2545c0');
  txt(742, 869, 'Unspliced', { size: 9.5, align: 'center' });
  txt(703, 882, 'fusion transcript', { size: 9.5 });

  // =================== coverage grids ===================
  const tracks = [
    { top: 78, h: 63, range: aRange, max: 300, data: aM160, color: BLUE, base: '#2a48c8', bw: 2 },
    { top: 207, h: 28, range: aRange, max: 160, data: aM126, color: BLUE, base: '#2a48c8', bw: 2 },
    { top: 327, h: 18, range: bRange, max: 80, data: [...bM21, ...bM21Low], color: BLUE, base: '#3a56c8', bw: 1.6 },
    { top: 361, h: 18, range: bRange, max: 100, data: [...bM138, ...bM138Low], color: BLUE, base: '#3a56c8', bw: 1.6 },
    { top: 395, h: 18, range: bRange, max: 75, data: [...bM251, ...bM251Low], color: BLUE, base: '#3a56c8', bw: 1.6 },
    { top: 431, h: 16, range: bRange, max: 70, data: [...bM210, ...bM210Low], color: BLUE, base: '#3a56c8', bw: 1.6 },
    { top: 736, h: 17, range: dRange, max: 200, data: dLB120, color: CRED, base: CRED, bw: 1.8 },
    { top: 829, h: 19, range: dRange, max: 230, data: dB3191, color: CRED, base: CRED, bw: 1.8 },
  ];

  return {
    animation: false,
    backgroundColor: '#ffffff',
    grid: tracks.map((t) => ({ left: L0, top: t.top, width: W, height: t.h, containLabel: false })),
    xAxis: tracks.map((t, i) => ({
      gridIndex: i, type: 'value', min: t.range[0], max: t.range[1], z: 3,
      axisLine: { show: true, onZero: false, lineStyle: { color: t.base, width: 1 } },
      axisTick: { show: false }, axisLabel: { show: false }, splitLine: { show: false },
    })),
    yAxis: tracks.map((t, i) => ({ gridIndex: i, type: 'value', min: 0, max: t.max, show: false })),
    series: tracks.map((t, i) => ({
      type: 'bar', xAxisIndex: i, yAxisIndex: i, data: t.data, barWidth: t.bw, silent: true, z: 2,
      itemStyle: { color: t.color },
    })),
    graphic: { elements: els },
  };
}

export default function App() {
  const ref = useRef<HTMLDivElement>(null);
  useEffect(() => {
    const chart = echarts.init(ref.current as HTMLDivElement, null, { renderer: 'svg' });
    chart.setOption(buildOption() as any);
    return () => chart.dispose();
  }, []);
  return <div ref={ref} style={{ position: 'absolute', left: 0, top: 0, width: 788, height: 891, background: '#fff' }} />;
}
